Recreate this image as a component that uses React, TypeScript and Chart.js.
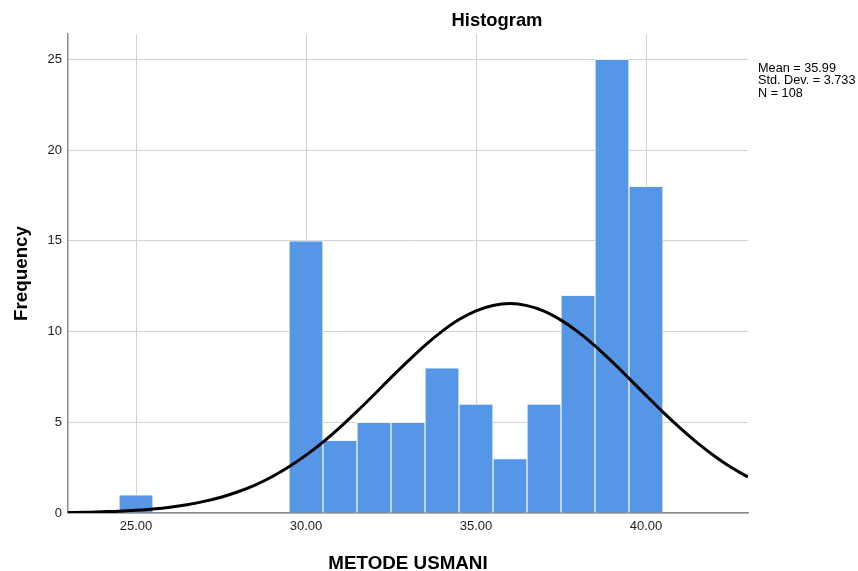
import React, { useEffect, useRef } from "react";
import { Chart, registerables } from "chart.js";

Chart.register(...registerables);

// ---- data ----
const binCenters = [25, 30, 31, 32, 33, 34, 35, 36, 37, 38, 39, 40];
const binCounts = [1, 15, 4, 5, 5, 8, 6, 3, 6, 12, 25, 18];

const curveX = [
  23, 23.5, 24, 24.5, 25, 25.5, 26, 26.5, 27, 27.5, 28, 28.5, 29, 29.5, 30, 30.5,
  31, 31.5, 32, 32.5, 33, 33.5, 34, 34.5, 35, 35.5, 36, 36.5, 37, 37.5, 38, 38.5,
  39, 39.5, 40, 40.5, 41, 41.5, 42, 42.5, 43,
];
const curveY = [
  0.03, 0.04, 0.07, 0.1, 0.15, 0.22, 0.32, 0.46, 0.64, 0.87, 1.17, 1.54, 2.0, 2.55, 3.19, 3.91,
  4.72, 5.6, 6.52, 7.46, 8.37, 9.24, 10.01, 10.66, 11.14, 11.44, 11.54, 11.43, 11.13, 10.63, 9.98, 9.21,
  8.34, 7.42, 6.48, 5.56, 4.69, 3.88, 3.16, 2.52, 1.98,
];

const xTickValues = [25, 30, 35, 40];
const yTickValues = [0, 5, 10, 15, 20, 25];
const statsLines = ["Mean = 35.99", "Std. Dev. = 3.733", "N = 108"];
const chartTitle = "Histogram";
const xTitle = "METODE USMANI";
const yTitle = "Frequency";

const FONT = '"Liberation Sans", Arial, sans-serif';

const textPlugin = {
  id: "spssText",
  afterDraw(chart: any) {
    const ctx = chart.ctx as CanvasRenderingContext2D;
    const area = chart.chartArea;
    ctx.save();
    ctx.fillStyle = "#000";
    // title
    ctx.font = `bold 18.4px ${FONT}`;
    ctx.textAlign = "center";
    ctx.textBaseline = "alphabetic";
    ctx.fillText(chartTitle, 497, 26);
    // x title
    ctx.font = `bold 18.8px ${FONT}`;
    ctx.fillText(xTitle, (area.left + area.right) / 2, 569);
    // y title
    ctx.save();
    ctx.translate(27, (area.top + area.bottom) / 2);
    ctx.rotate(-Math.PI / 2);
    ctx.fillText(yTitle, 0, 0);
    ctx.restore();
    // stats
    ctx.font = `12.7px ${FONT}`;
    ctx.textAlign = "left";
    statsLines.forEach((s, i) => ctx.fillText(s, 758, 71.5 + i * 12.8));
    ctx.restore();
  },
};

export default function App() {
  const ref = useRef<HTMLCanvasElement | null>(null);
  useEffect(() => {
    if (!ref.current) return;
    const gridColor = "#d2d2d2";
    const axisColor = "#8c8c8c";
    const chart = new Chart(ref.current, {
      type: "bar",
      data: {
        datasets: [
          {
            type: "line",
            data: curveX.map((x, i) => ({ x, y: curveY[i] })),
            borderColor: "#000",
            borderWidth: 3,
            pointRadius: 0,
            fill: false,
            cubicInterpolationMode: "monotone",
            order: 1,
          } as any,
          {
            type: "bar",
            data: binCenters.map((x, i) => ({ x, y: binCounts[i] })),
            backgroundColor: "#5596e6",
            borderColor: "rgba(235,243,253,0.95)",
            borderWidth: 1,
            barPercentage: 1,
            categoryPercentage: 1,
            order: 2,
          } as any,
        ],
      },
      options: {
        animation: false,
        responsive: false,
        devicePixelRatio: 1,
        layout: { padding: { left: 0, top: 34, right: 110, bottom: 0 } },
        plugins: {
          legend: { display: false },
          tooltip: { enabled: false },
          title: { display: false },
        },
        scales: {
          x: {
            type: "linear",
            min: 23,
            max: 43,
            offset: false,
            afterBuildTicks: (s: any) => {
              s.ticks = xTickValues.map((v) => ({ value: v }));
            },
            afterFit: (s: any) => {
              s.height = 58;
            },
            ticks: {
              callback: (v: any) => Number(v).toFixed(2),
              font: { family: FONT, size: 13 },
              color: "#222",
              padding: 6,
              maxRotation: 0,
              autoSkip: false,
            },
            grid: { color: gridColor, lineWidth: 1, drawTicks: false, offset: false },
            border: { color: axisColor, width: 1.5 },
          },
          y: {
            type: "linear",
            min: 0,
            max: 26.4,
            afterBuildTicks: (s: any) => {
              s.ticks = yTickValues.map((v) => ({ value: v }));
            },
            afterFit: (s: any) => {
              s.width = 68;
            },
            ticks: {
              font: { family: FONT, size: 13 },
              color: "#222",
              padding: 6,
            },
            grid: { color: gridColor, lineWidth: 1, drawTicks: false },
            border: { color: axisColor, width: 1.5 },
          },
        },
      } as any,
      plugins: [textPlugin],
    });
    return () => chart.destroy();
  }, []);
  return (
    <div style={{ position: "absolute", left: 0, top: 0, width: 858, height: 571, background: "#fff" }}>
      <canvas ref={ref} width={858} height={571} style={{ width: 858, height: 571, display: "block" }} />
    </div>
  );
}
